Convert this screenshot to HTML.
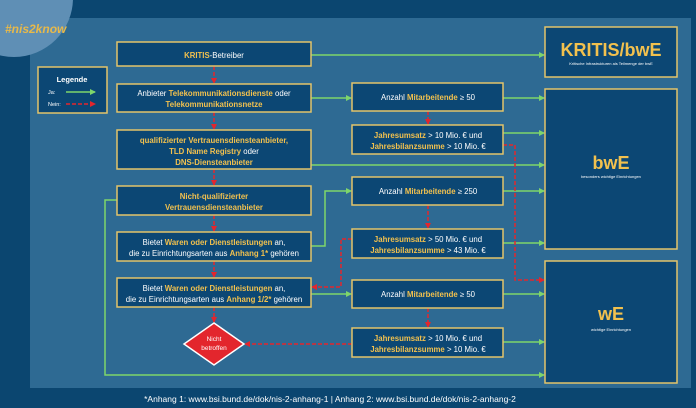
<!DOCTYPE html>
<html><head><meta charset="utf-8"><style>
html,body{margin:0;padding:0;background:#0b4670;}
svg{display:block}
text{font-family:"Liberation Sans",sans-serif;}
</style></head><body>
<svg width="696" height="408" viewBox="0 0 696 408" xmlns="http://www.w3.org/2000/svg">
<defs>
<marker id="ga" markerWidth="6" markerHeight="6" refX="5" refY="3" orient="auto" markerUnits="userSpaceOnUse"><path d="M0,0 L6,3 L0,6 z" fill="#7ed66b"/></marker>
<marker id="ra" markerWidth="6" markerHeight="6" refX="5" refY="3" orient="auto" markerUnits="userSpaceOnUse"><path d="M0,0 L6,3 L0,6 z" fill="#e3262d"/></marker>
</defs>
<rect width="696" height="408" fill="#0b4670"/>
<rect x="30" y="18" width="661" height="370" fill="#2e6a93"/>
<circle cx="14" cy="-2" r="59" fill="#5f8fb5"/>
<text x="5" y="33" font-size="12" font-weight="bold" font-style="italic" fill="#e8b94a">#nis2know</text>

<rect x="38" y="67" width="69" height="46" fill="#0c4774" stroke="#e3c46a" stroke-width="1.5"/>
<text x="72" y="82" font-size="7.5" font-weight="bold" fill="#fff" text-anchor="middle">Legende</text>
<text x="48" y="94" font-size="5.5" fill="#fff">Ja:</text>
<text x="48" y="106" font-size="5.5" fill="#fff">Nein:</text>
<line x1="66" y1="92" x2="95" y2="92" stroke="#7ed66b" stroke-width="1.5" marker-end="url(#ga)"/>
<line x1="66" y1="104" x2="95" y2="104" stroke="#e3262d" stroke-width="1.5" stroke-dasharray="4,2" marker-end="url(#ra)"/>

<g stroke="#7ed66b" stroke-width="1.5" fill="none" marker-end="url(#ga)">
<path d="M311 55 H544"/>
<path d="M311 98 H351"/>
<path d="M503 98 H544"/>
<path d="M503 133 H544"/>
<path d="M311 165 H544"/>
<path d="M311 246 H325 V191 H351"/>
<path d="M503 191 H544"/>
<path d="M503 243 H544"/>
<path d="M117 200 H105 V375 H544"/>
<path d="M311 294 H351"/>
<path d="M503 294 H544"/>
<path d="M503 342 H544"/>
</g>
<g stroke="#e3262d" stroke-width="1.5" fill="none" stroke-dasharray="4,2" marker-end="url(#ra)">
<path d="M214 66 V83"/>
<path d="M214 112 V129"/>
<path d="M214 169 V185"/>
<path d="M214 215 V231"/>
<path d="M214 261 V277"/>
<path d="M214 307 V322"/>
<path d="M428 111 V124"/>
<path d="M428 205 V228"/>
<path d="M428 308 V327"/>
<path d="M503 145 H515 V280 H544"/>
<path d="M352 239 H341 V287 H312"/>
<path d="M352 344 H245"/>
</g>

<g fill="#0c4774" stroke="#e3c46a" stroke-width="1.5">
<rect x="117" y="42" width="194" height="24"/>
<rect x="117" y="84" width="194" height="28"/>
<rect x="117" y="130" width="194" height="39"/>
<rect x="117" y="186" width="194" height="29"/>
<rect x="117" y="232" width="194" height="29"/>
<rect x="117" y="278" width="194" height="29"/>
<rect x="352" y="83" width="151" height="28"/>
<rect x="352" y="125" width="151" height="29"/>
<rect x="352" y="177" width="151" height="28"/>
<rect x="352" y="229" width="151" height="29"/>
<rect x="352" y="280" width="151" height="28"/>
<rect x="352" y="328" width="151" height="29"/>
<rect x="545" y="27" width="132" height="50"/>
<rect x="545" y="89" width="132" height="160"/>
<rect x="545" y="261" width="132" height="122"/>
</g>
<polygon points="214,323 244,344 214,365 184,344" fill="#e3262d" stroke="#fff" stroke-width="1.5"/>
<text x="214" y="341" font-size="6.5" fill="#fff" text-anchor="middle">Nicht</text>
<text x="214" y="350" font-size="6.5" fill="#fff" text-anchor="middle">betroffen</text>

<g font-size="7.8" fill="#fff" text-anchor="middle">
<text x="214" y="58"><tspan fill="#f2c14e" font-weight="bold">KRITIS</tspan>-Betreiber</text>
<text x="214" y="96">Anbieter <tspan fill="#f2c14e" font-weight="bold">Telekommunikationsdienste</tspan> oder</text>
<text x="214" y="107" fill="#f2c14e" font-weight="bold">Telekommunikationsnetze</text>
<text x="214" y="143" fill="#f2c14e" font-weight="bold">qualifizierter Vertrauensdiensteanbieter,</text>
<text x="214" y="154"><tspan fill="#f2c14e" font-weight="bold">TLD Name Registry</tspan> oder</text>
<text x="214" y="165" fill="#f2c14e" font-weight="bold">DNS-Diensteanbieter</text>
<text x="214" y="199" fill="#f2c14e" font-weight="bold">Nicht-qualifizierter</text>
<text x="214" y="210" fill="#f2c14e" font-weight="bold">Vertrauensdiensteanbieter</text>
<text x="214" y="245">Bietet <tspan fill="#f2c14e" font-weight="bold">Waren oder Dienstleistungen</tspan> an,</text>
<text x="214" y="256">die zu Einrichtungsarten aus <tspan fill="#f2c14e" font-weight="bold">Anhang 1*</tspan> gehören</text>
<text x="214" y="291">Bietet <tspan fill="#f2c14e" font-weight="bold">Waren oder Dienstleistungen</tspan> an,</text>
<text x="214" y="302">die zu Einrichtungsarten aus <tspan fill="#f2c14e" font-weight="bold">Anhang 1/2*</tspan> gehören</text>

<text x="428" y="100">Anzahl <tspan fill="#f2c14e" font-weight="bold">Mitarbeitende</tspan> ≥ 50</text>
<text x="428" y="138"><tspan fill="#f2c14e" font-weight="bold">Jahresumsatz</tspan> &gt; 10 Mio. € und</text>
<text x="428" y="149"><tspan fill="#f2c14e" font-weight="bold">Jahresbilanzsumme</tspan> &gt; 10 Mio. €</text>
<text x="428" y="194">Anzahl <tspan fill="#f2c14e" font-weight="bold">Mitarbeitende</tspan> ≥ 250</text>
<text x="428" y="242"><tspan fill="#f2c14e" font-weight="bold">Jahresumsatz</tspan> &gt; 50 Mio. € und</text>
<text x="428" y="253"><tspan fill="#f2c14e" font-weight="bold">Jahresbilanzsumme</tspan> &gt; 43 Mio. €</text>
<text x="428" y="297">Anzahl <tspan fill="#f2c14e" font-weight="bold">Mitarbeitende</tspan> ≥ 50</text>
<text x="428" y="341"><tspan fill="#f2c14e" font-weight="bold">Jahresumsatz</tspan> &gt; 10 Mio. € und</text>
<text x="428" y="352"><tspan fill="#f2c14e" font-weight="bold">Jahresbilanzsumme</tspan> &gt; 10 Mio. €</text>
</g>

<g text-anchor="middle">
<text x="611" y="56" font-size="18" font-weight="bold" fill="#f2c14e">KRITIS/bwE</text>
<text x="611" y="65" font-size="4" fill="#fff">Kritische Infrastrukturen als Teilmenge der bwE</text>
<text x="611" y="169" font-size="18" font-weight="bold" fill="#f2c14e">bwE</text>
<text x="611" y="178" font-size="4" fill="#fff">besonders wichtige Einrichtungen</text>
<text x="611" y="320" font-size="18" font-weight="bold" fill="#f2c14e">wE</text>
<text x="611" y="331" font-size="4" fill="#fff">wichtige Einrichtungen</text>
<text x="330" y="402" font-size="8.5" fill="#fff">*Anhang 1: www.bsi.bund.de/dok/nis-2-anhang-1 | Anhang 2: www.bsi.bund.de/dok/nis-2-anhang-2</text>
</g>
</svg>
</body></html>
